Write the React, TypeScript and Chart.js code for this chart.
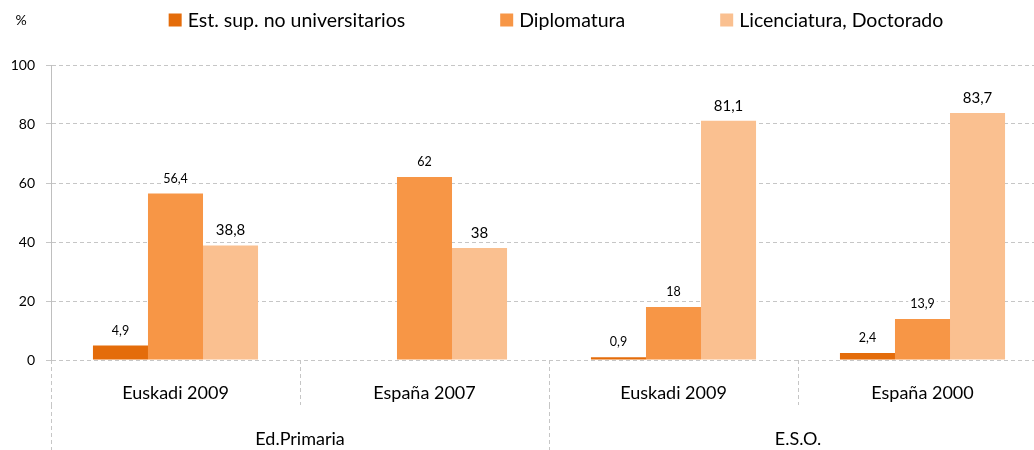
import React, { useEffect, useRef } from "react";
import { Chart, registerables } from "chart.js";

Chart.register(...registerables);

const categories = ["Euskadi 2009", "España 2007", "Euskadi 2009", "España 2000"];
const groups = ["Ed.Primaria", "E.S.O."];
const seriesNames = ["Est. sup. no universitarios", "Diplomatura", "Licenciatura, Doctorado"];
const estSup: (number | null)[] = [4.9, null, 0.9, 2.4];
const diplomatura: (number | null)[] = [56.4, 62, 18, 13.9];
const licenciatura: (number | null)[] = [38.8, 38, 81.1, 83.7];
const colors = ["#E46C0A", "#F79646", "#FAC090"];

const FONT = "Lato, 'Noto Sans', sans-serif";
const GRID = "#c6c6c6";

const labelPlugin = {
  id: "valueLabels",
  afterDatasetsDraw(chart: any) {
    const ctx = chart.ctx;
    chart.data.datasets.forEach((ds: any, di: number) => {
      const meta = chart.getDatasetMeta(di);
      const size = di === 2 ? 15 : 12.5;
      meta.data.forEach((el: any, i: number) => {
        const v = ds.data[i];
        if (v === null || v === undefined) return;
        const txt = String(v).replace(".", ",");
        ctx.save();
        ctx.font = `${size}px ${FONT}`;
        const w = ctx.measureText(txt).width;
        const y = el.y - 15;
        ctx.fillStyle = "#ffffff";
        ctx.fillRect(el.x - w / 2 - 2, y - size / 2 - 1, w + 4, size + 2);
        ctx.fillStyle = "#000000";
        ctx.textAlign = "center";
        ctx.textBaseline = "middle";
        ctx.fillText(txt, el.x, y);
        ctx.restore();
      });
    });
  },
};

const legendPlugin = {
  id: "customLegend",
  afterDraw(chart: any) {
    const ctx = chart.ctx;
    const size = 19.5;
    const box = 13;
    const textGap = 6;
    const itemGap = 95;
    ctx.save();
    ctx.font = `${size}px ${FONT}`;
    const widths = chart.data.datasets.map((ds: any) => box + textGap + ctx.measureText(ds.label).width);
    const total = widths.reduce((a: number, b: number) => a + b, 0) + itemGap * (widths.length - 1);
    const ca = chart.chartArea;
    let x = (ca.left + ca.right) / 2 - total / 2 + 7;
    const cy = 20;
    chart.data.datasets.forEach((ds: any, i: number) => {
      ctx.fillStyle = ds.backgroundColor;
      ctx.fillRect(x, cy - box / 2, box, box);
      ctx.fillStyle = "#000";
      ctx.textAlign = "left";
      ctx.textBaseline = "middle";
      ctx.fillText(ds.label, x + box + textGap, cy + 1);
      x += widths[i] + itemGap;
    });
    ctx.font = `14px ${FONT}`;
    ctx.textAlign = "center";
    ctx.fillText("%", 21, 20);
    ctx.restore();
  },
};

export default function App() {
  const ref = useRef<HTMLCanvasElement | null>(null);
  useEffect(() => {
    if (!ref.current) return;
    const chart = new Chart(ref.current, {
      type: "bar",
      data: {
        labels: categories,
        datasets: [estSup, diplomatura, licenciatura].map((d, i) => ({
          label: seriesNames[i],
          data: d,
          backgroundColor: colors[i],
          borderWidth: 0,
          categoryPercentage: 0.663,
          barPercentage: 1,
          xAxisID: "x",
        })),
      },
      options: {
        animation: false,
        responsive: false,
        maintainAspectRatio: false,
        layout: { padding: { top: 65, right: 0, bottom: 0, left: 0 } },
        plugins: {
          tooltip: { enabled: false },
          legend: { display: false },
        },
        scales: {
          y: {
            min: 0,
            max: 100,
            ticks: { stepSize: 20, color: "#000", padding: 11, font: { family: FONT, size: 14 } },
            grid: { color: GRID, tickLength: 5 },
            border: { display: true, color: "#bfbfbf", dash: [4, 3] },
            afterFit: (s: any) => {
              s.width = 51;
            },
          },
          x: {
            type: "category",
            position: "bottom",
            weight: 0,
            offset: true,
            grid: {
              offset: true,
              drawOnChartArea: false,
              drawTicks: true,
              tickLength: 45,
              color: GRID,
              tickBorderDash: [4, 3],
            },
            border: { display: false },
            ticks: {
              color: "#000",
              padding: -23,
              maxRotation: 0,
              autoSkip: false,
              font: { family: FONT, size: 18 },
            },
            afterFit: (s: any) => {
              s.height = 45;
            },
          },
          x2: {
            type: "category",
            position: "bottom",
            weight: 1,
            labels: groups,
            offset: true,
            grid: {
              offset: true,
              drawOnChartArea: false,
              drawTicks: true,
              tickLength: 45,
              color: GRID,
              tickBorderDash: [4, 3],
            },
            border: { display: false },
            ticks: {
              color: "#000",
              padding: -22,
              maxRotation: 0,
              autoSkip: false,
              font: { family: FONT, size: 18 },
            },
            afterFit: (s: any) => {
              s.height = 45;
            },
          },
        },
      } as any,
      plugins: [labelPlugin, legendPlugin],
    });
    return () => chart.destroy();
  }, []);
  return (
    <div style={{ position: "fixed", left: 0, top: 0, width: 1034, height: 450, overflow: "hidden", background: "#fff" }}>
      <canvas ref={ref} width={1047} height={450} style={{ width: 1047, height: 450, display: "block" }} />
    </div>
  );
}
